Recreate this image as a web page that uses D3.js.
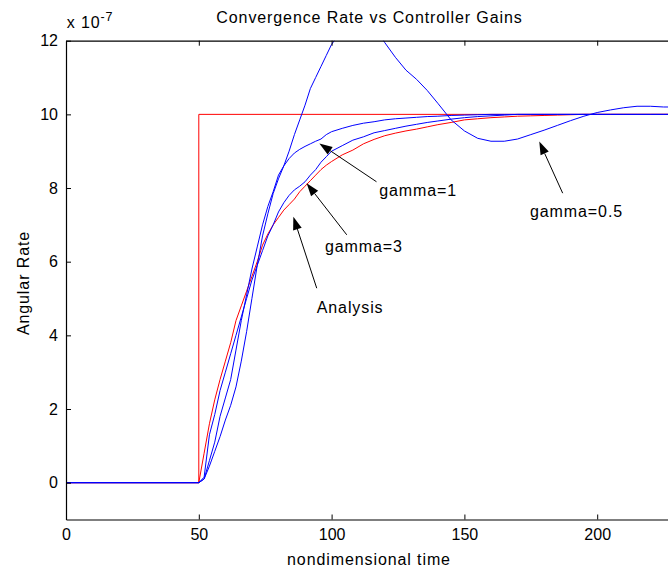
<!DOCTYPE html>
<html>
<head>
<meta charset="utf-8">
<script src="https://cdn.jsdelivr.net/npm/d3@7"></script>
<style>
  body { margin: 0; background: #fff; }
  svg { display: block; }
  .lbl { font-family: "Liberation Sans", Arial, sans-serif; font-size: 16px; letter-spacing: 0.9px; fill: #000; }
</style>
</head>
<body>
<svg id="chart"></svg>
<script>
var width = 668, height = 572;

// time axis shared by the simulated responses (nondimensional time)
var time = [0, 50, 52, 54, 56, 58, 60, 62, 64, 66, 68, 70, 72, 74, 76, 78, 80, 82, 84, 86, 88, 90,
    92, 94, 96, 98, 100, 104, 108, 112, 116, 120, 124, 128, 132, 136, 140, 145, 150, 155, 160,
    165, 170, 175, 180, 185, 190, 195, 200, 205, 210, 215, 220, 225, 230, 240, 250];

// angular rate values, x 10^-7
var analysis = [0, 0, 0.8, 1.6, 2.25, 2.8, 3.3, 3.8, 4.4, 4.8, 5.2, 5.6, 6.0, 6.45, 6.75, 7.0, 7.2, 7.4,
    7.55, 7.7, 7.9, 8.05, 8.2, 8.35, 8.5, 8.62, 8.72, 8.9, 9.03, 9.2, 9.32, 9.42, 9.49, 9.55, 9.6,
    9.66, 9.72, 9.78, 9.85, 9.88, 9.91, 9.93, 9.95, 9.96, 9.97, 9.98, 9.99, 10, 10, 10, 10, 10, 10,
    10, 10, 10, 10];
var gamma3 = [0, 0, 0.15, 1.3, 1.85, 2.5, 3.0, 3.5, 4.0, 4.5, 5.0, 5.5, 5.9, 6.3, 6.7, 7.0, 7.35, 7.6,
    7.8, 7.95, 8.05, 8.17, 8.35, 8.5, 8.7, 8.85, 9.0, 9.15, 9.3, 9.39, 9.5, 9.56, 9.62, 9.68, 9.73,
    9.78, 9.82, 9.87, 9.91, 9.94, 9.96, 9.98, 10, 10, 10, 10, 10, 10, 10, 10, 10, 10, 10, 10, 10, 10, 10];
var gamma1 = [0, 0, 0.1, 0.6, 1.1, 1.8, 2.3, 2.8, 3.6, 4.4, 5.1, 5.8, 6.4, 7.0, 7.5, 7.9, 8.35, 8.6,
    8.8, 8.95, 9.05, 9.13, 9.2, 9.27, 9.33, 9.45, 9.53, 9.62, 9.7, 9.76, 9.8, 9.85, 9.88, 9.9, 9.92,
    9.94, 9.95, 9.97, 9.98, 9.99, 10, 10, 10, 10, 10, 10, 10, 10, 10, 10, 10, 10, 10, 10, 10, 10, 10];
var gamma05 = [0, 0, 0.1, 0.45, 0.85, 1.25, 1.7, 2.1, 2.6, 3.3, 4.1, 5.0, 5.9, 6.7, 7.3, 7.85, 8.25,
    8.6, 9.0, 9.45, 9.85, 10.25, 10.7, 11.0, 11.3, 11.6, 11.9, 12.3, 12.5, 12.55, 12.4, 11.95, 11.55,
    11.2, 10.95, 10.65, 10.3, 9.85, 9.55, 9.35, 9.27, 9.27, 9.33, 9.45, 9.57, 9.7, 9.83, 9.95, 10.05,
    10.12, 10.18, 10.22, 10.22, 10.2, 10.2, 10.2, 10.2];

// commanded step
var stepTime = [0, 50, 50, 250];
var stepValue = [0, 0, 10, 10];

var xTicks = [0, 50, 100, 150, 200];
var yTicks = [0, 2, 4, 6, 8, 10, 12];

// annotation text and arrows, in data units
var notes = [
    { text: "gamma=1", tx: 117.9, ty: 7.78, from: [116.9, 8.17], to: [95.4, 9.21] },
    { text: "gamma=3", tx: 97.5, ty: 6.26, from: [105.7, 6.73], to: [90.6, 8.13] },
    { text: "Analysis", tx: 94.4, ty: 4.61, from: [94.4, 5.28], to: [85.6, 7.22] },
    { text: "gamma=0.5", tx: 174.7, ty: 7.21, from: [187, 7.86], to: [178.2, 9.26] }
];

var svg = d3.select("#chart")
    .attr("width", width)
    .attr("height", height);

var plotLeft = 66, plotTop = 40.7, plotBottom = 519.5, plotRight = 730;

var x = d3.scaleLinear().domain([0, 250]).range([plotLeft, plotRight]);
var y = d3.scaleLinear().domain([-1, 12]).range([plotBottom, plotTop]);

svg.append("defs").append("clipPath")
    .attr("id", "plotclip")
    .append("rect")
    .attr("x", plotLeft).attr("y", plotTop)
    .attr("width", plotRight - plotLeft).attr("height", plotBottom - plotTop);

var plot = svg.append("g").attr("clip-path", "url(#plotclip)");

var line = d3.line()
    .x(function(d) { return x(d[0]); })
    .y(function(d) { return y(d[1]); });

function pairs(ts, vs) {
    return ts.map(function(t, i) { return [t, vs[i]]; });
}

var series = [
    { values: stepValue, t: stepTime, color: "#ff0000" },
    { values: analysis, t: time, color: "#ff0000" },
    { values: gamma3, t: time, color: "#0000ff" },
    { values: gamma1, t: time, color: "#0000ff" },
    { values: gamma05, t: time, color: "#0000ff" }
];

plot.selectAll("path.series")
    .data(series)
    .enter().append("path")
    .attr("class", "series")
    .attr("d", function(d) { return line(pairs(d.t, d.values)); })
    .attr("fill", "none")
    .attr("stroke", function(d) { return d.color; })
    .attr("stroke-width", 1);

// axes, MATLAB style: ticks point inward
function styleAxis(g) {
    g.selectAll("path.domain").attr("stroke", "#000").attr("stroke-width", 1.2);
    g.selectAll(".tick line").attr("stroke", "#000");
    g.selectAll(".tick text")
        .attr("fill", "#000")
        .style("font-family", "'Liberation Sans', Arial, sans-serif")
        .style("font-size", "16px");
}

svg.append("g")
    .attr("transform", "translate(0," + plotBottom + ")")
    .call(d3.axisBottom(x).tickValues(xTicks).tickSizeInner(-5).tickSizeOuter(0).tickPadding(9))
    .call(styleAxis);

svg.append("g")
    .attr("transform", "translate(0," + plotTop + ")")
    .call(d3.axisTop(x).tickValues(xTicks).tickSizeInner(-5).tickSizeOuter(0).tickFormat(""))
    .call(styleAxis);

svg.append("g")
    .attr("transform", "translate(" + plotLeft + ",0)")
    .call(d3.axisLeft(y).tickValues(yTicks).tickSizeInner(-5).tickSizeOuter(0).tickPadding(8))
    .call(styleAxis);

// exponent label
svg.append("text").attr("class", "lbl")
    .attr("x", 66.7).attr("y", 28.3)
    .text("x 10");
svg.append("text").attr("class", "lbl")
    .attr("x", 100.5).attr("y", 20.5)
    .style("font-size", "12.5px")
    .text("-7");

// title and axis labels
svg.append("text").attr("class", "lbl")
    .attr("x", 369.5).attr("y", 23.3)
    .attr("text-anchor", "middle")
    .text("Convergence Rate vs Controller Gains");

svg.append("text").attr("class", "lbl")
    .attr("x", 369).attr("y", 565)
    .attr("text-anchor", "middle")
    .text("nondimensional time");

svg.append("text").attr("class", "lbl")
    .attr("transform", "translate(28.5,283) rotate(-90)")
    .attr("text-anchor", "middle")
    .text("Angular Rate");

// annotations with arrows
var ann = svg.append("g");

notes.forEach(function(n) {
    var x1 = x(n.from[0]), y1 = y(n.from[1]);
    var x2 = x(n.to[0]), y2 = y(n.to[1]);
    var ang = Math.atan2(y2 - y1, x2 - x1);
    var headLen = 13, headW = 4.5;
    var bx = x2 - headLen * Math.cos(ang), by = y2 - headLen * Math.sin(ang);

    ann.append("line")
        .attr("x1", x1).attr("y1", y1)
        .attr("x2", bx).attr("y2", by)
        .attr("stroke", "#000")
        .attr("stroke-width", 1);

    var px = -Math.sin(ang) * headW, py = Math.cos(ang) * headW;
    ann.append("polygon")
        .attr("points", [[x2, y2], [bx + px, by + py], [bx - px, by - py]].map(function(p) { return p.join(","); }).join(" "))
        .attr("fill", "#000");

    ann.append("text").attr("class", "lbl")
        .attr("x", x(n.tx)).attr("y", y(n.ty))
        .text(n.text);
});
</script>
</body>
</html>
